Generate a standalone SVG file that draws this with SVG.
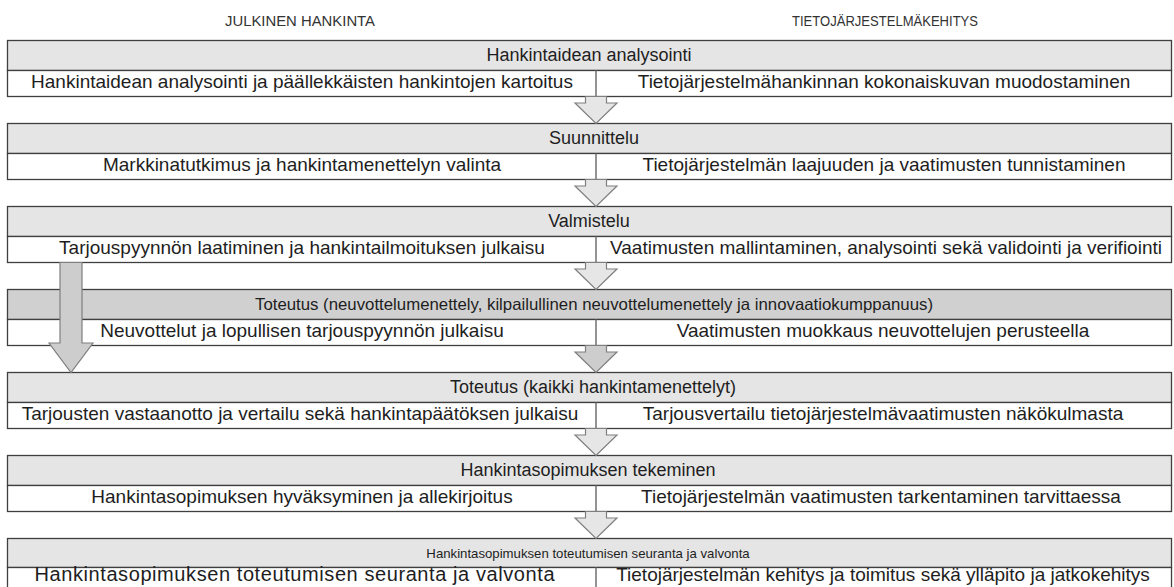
<svg xmlns="http://www.w3.org/2000/svg" width="1174" height="587" viewBox="0 0 1174 587">
<style>
  .hdr { fill: #e5e5e5; stroke: #3f3f3f; stroke-width: 1.3; }
  .hdrd { fill: #d0d0d0; stroke: #3f3f3f; stroke-width: 1.3; }
  .row { fill: #ffffff; stroke: #3f3f3f; stroke-width: 1.3; }
  .div { stroke: #707070; stroke-width: 1.5; }
  .arr { fill: #e6e6e6; stroke: #7f7f7f; stroke-width: 1.2; }
  .arrd { fill: #cdcdcd; stroke: #7f7f7f; stroke-width: 1.2; }
  text { font-family: "Liberation Sans", Arial, sans-serif; fill: #1e1e1e; text-anchor: middle; }
  .lab { font-size: 15px; fill: #333333; }
  .h { font-size: 18px; }
  .r { font-size: 19px; }
</style>
<rect width="1174" height="587" fill="#ffffff"/>
<text class="lab" x="300" y="26" textLength="150" lengthAdjust="spacingAndGlyphs">JULKINEN HANKINTA</text>
<text class="lab" x="885" y="26" textLength="186" lengthAdjust="spacingAndGlyphs">TIETOJÄRJESTELMÄKEHITYS</text>

<g id="block1">
  <rect class="hdr" x="7.5" y="40.5" width="1164" height="30"/>
  <rect class="row" x="7.5" y="70.5" width="1164" height="26"/>
  <line class="div" x1="596" y1="70.5" x2="596" y2="96.5"/>
  <text class="h" x="589" y="61">Hankintaidean analysointi</text>
  <text class="r" x="302" y="88">Hankintaidean analysointi ja päällekkäisten hankintojen kartoitus</text>
  <text class="r" x="884" y="88">Tietojärjestelmähankinnan kokonaiskuvan muodostaminen</text>
</g>
<g id="block2">
  <rect class="hdr" x="7.5" y="123.5" width="1164" height="30"/>
  <rect class="row" x="7.5" y="153.5" width="1164" height="26"/>
  <line class="div" x1="596" y1="153.5" x2="596" y2="179.5"/>
  <text class="h" x="594" y="144">Suunnittelu</text>
  <text class="r" x="302" y="171">Markkinatutkimus ja hankintamenettelyn valinta</text>
  <text class="r" x="884" y="171">Tietojärjestelmän laajuuden ja vaatimusten tunnistaminen</text>
</g>
<g id="block3">
  <rect class="hdr" x="7.5" y="206.5" width="1164" height="30"/>
  <rect class="row" x="7.5" y="236.5" width="1164" height="26"/>
  <line class="div" x1="596" y1="236.5" x2="596" y2="262.5"/>
  <text class="h" x="589" y="227">Valmistelu</text>
  <text class="r" x="302" y="254">Tarjouspyynnön laatiminen ja hankintailmoituksen julkaisu</text>
  <text class="r" x="886" y="254">Vaatimusten mallintaminen, analysointi sekä validointi ja verifiointi</text>
</g>
<g id="block4">
  <rect class="hdrd" x="7.5" y="289.5" width="1164" height="30"/>
  <rect class="row" x="7.5" y="319.5" width="1164" height="26"/>
  <line class="div" x1="596" y1="319.5" x2="596" y2="345.5"/>
  <text x="594" y="310" style="font-size:16.5px" textLength="678" lengthAdjust="spacingAndGlyphs">Toteutus (neuvottelumenettely, kilpailullinen neuvottelumenettely ja innovaatiokumppanuus)</text>
  <text class="r" x="302" y="337">Neuvottelut ja lopullisen tarjouspyynnön julkaisu</text>
  <text class="r" x="883" y="337">Vaatimusten muokkaus neuvottelujen perusteella</text>
</g>
<g id="block5">
  <rect class="hdr" x="7.5" y="372.5" width="1164" height="30"/>
  <rect class="row" x="7.5" y="402.5" width="1164" height="26"/>
  <line class="div" x1="596" y1="402.5" x2="596" y2="428.5"/>
  <text class="h" x="593" y="393">Toteutus (kaikki hankintamenettelyt)</text>
  <text class="r" x="300" y="420">Tarjousten vastaanotto ja vertailu sekä hankintapäätöksen julkaisu</text>
  <text class="r" x="883" y="420">Tarjousvertailu tietojärjestelmävaatimusten näkökulmasta</text>
</g>
<g id="block6">
  <rect class="hdr" x="7.5" y="455.5" width="1164" height="30"/>
  <rect class="row" x="7.5" y="485.5" width="1164" height="26"/>
  <line class="div" x1="596" y1="485.5" x2="596" y2="511.5"/>
  <text class="h" x="588" y="476">Hankintasopimuksen tekeminen</text>
  <text class="r" x="302" y="503">Hankintasopimuksen hyväksyminen ja allekirjoitus</text>
  <text class="r" x="881" y="503">Tietojärjestelmän vaatimusten tarkentaminen tarvittaessa</text>
</g>
<g id="block7">
  <rect class="hdr" x="7.5" y="538.5" width="1164" height="29"/>
  <rect class="row" x="7.5" y="567.5" width="1164" height="26"/>
  <line class="div" x1="596" y1="567.5" x2="596" y2="593.5"/>
  <text x="588" y="558" style="font-size:13.2px">Hankintasopimuksen toteutumisen seuranta ja valvonta</text>
  <text class="r" x="294.5" y="581" style="font-size:20px" textLength="520" lengthAdjust="spacing">Hankintasopimuksen toteutumisen seuranta ja valvonta</text>
  <text class="r" x="883" y="581">Tietojärjestelmän kehitys ja toimitus sekä ylläpito ja jatkokehitys</text>
</g>

<g id="connectors">
  <polygon class="arr" points="585.5,96.5 606.5,96.5 606.5,103 617,103 596,123.5 575,103 585.5,103"/>
  <polygon class="arr" points="585.5,179.5 606.5,179.5 606.5,186 617,186 596,206.5 575,186 585.5,186"/>
  <polygon class="arr" points="585.5,262.5 606.5,262.5 606.5,269 617,269 596,289.5 575,269 585.5,269"/>
  <polygon class="arrd" points="585.5,345.5 606.5,345.5 606.5,352 617,352 596,372.5 575,352 585.5,352"/>
  <polygon class="arr" points="585.5,428.5 606.5,428.5 606.5,435 617,435 596,455.5 575,435 585.5,435"/>
  <polygon class="arr" points="585.5,511.5 606.5,511.5 606.5,518 617,518 596,538.5 575,518 585.5,518"/>
  <polygon class="arrd" points="60,262.5 82,262.5 82,343 93,343 71,372.5 49,343 60,343"/>
</g>
</svg>
